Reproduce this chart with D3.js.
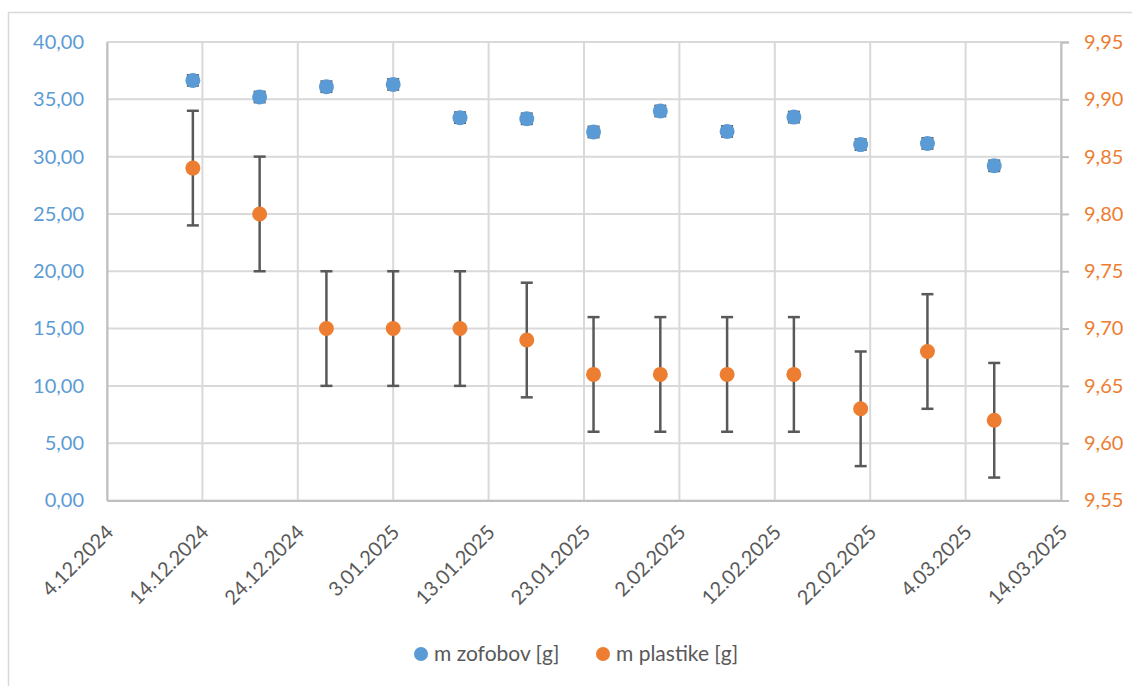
<!DOCTYPE html>
<html>
<head>
<meta charset="utf-8">
<script src="https://cdn.jsdelivr.net/npm/d3@7"></script>
<style>
  body { margin: 0; background: #fff; }
  svg { display: block; font-family: Lato, "Open Sans", sans-serif; }
</style>
</head>
<body>
<svg width="1132" height="686"></svg>
<script>
// measurement dates (weekly)
var dates = ["13.12.2024", "20.12.2024", "27.12.2024", "3.01.2025", "10.01.2025", "17.01.2025",
             "24.01.2025", "31.01.2025", "7.02.2025", "14.02.2025", "21.02.2025", "28.02.2025", "7.03.2025"];
// m zofobov [g] - left axis
var zofobov = [36.65, 35.2, 36.1, 36.3, 33.4, 33.3, 32.15, 33.98, 32.2, 33.45, 31.05, 31.15, 29.2];
var zofobovErr = [0.45, 0.45, 0.45, 0.45, 0.45, 0.45, 0.45, 0.45, 0.45, 0.45, 0.45, 0.45, 0.45];
// m plastike [g] - right axis
var plastika = [9.84, 9.80, 9.70, 9.70, 9.70, 9.69, 9.66, 9.66, 9.66, 9.66, 9.63, 9.68, 9.62];
var plastikaErr = [0.05, 0.05, 0.05, 0.05, 0.05, 0.05, 0.05, 0.05, 0.05, 0.05, 0.05, 0.05, 0.05];
// axis ticks
var xTicks = ["4.12.2024", "14.12.2024", "24.12.2024", "3.01.2025", "13.01.2025", "23.01.2025",
              "2.02.2025", "12.02.2025", "22.02.2025", "4.03.2025", "14.03.2025"];
var yLeftTicks = [0, 5, 10, 15, 20, 25, 30, 35, 40];
var yRightTicks = [9.55, 9.60, 9.65, 9.70, 9.75, 9.80, 9.85, 9.90, 9.95];
var seriesNames = ["m zofobov [g]", "m plastike [g]"];

var blue = "#5B9BD5", orange = "#ED7D31", grey = "#595959", grid = "#d9d9d9";

var svg = d3.select("svg");
var parse = d3.timeParse("%d.%m.%Y");
var fmt = d3.formatLocale({decimal: ",", thousands: ".", grouping: [3], currency: ["", ""]}).format(".2f");

var plotLeft = 107, plotRight = 1061, plotTop = 42, plotBottom = 500.5;

var x = d3.scaleTime()
    .domain([parse(xTicks[0]), parse(xTicks[xTicks.length - 1])])
    .range([plotLeft, plotRight]);
var yL = d3.scaleLinear().domain([0, 40]).range([plotBottom, plotTop]);
var yR = d3.scaleLinear().domain([9.55, 9.95]).range([plotBottom, plotTop]);

// chart border
svg.append("rect")
    .attr("x", 8.5).attr("y", 12.5)
    .attr("width", 1200).attr("height", 800)
    .attr("fill", "none").attr("stroke", grid).attr("stroke-width", 1.5);

// gridlines
svg.append("g").selectAll("line")
    .data(yLeftTicks)
  .enter().append("line")
    .attr("x1", plotLeft).attr("x2", plotRight)
    .attr("y1", function(d) { return yL(d); })
    .attr("y2", function(d) { return yL(d); })
    .attr("stroke", grid).attr("stroke-width", 2);

svg.append("g").selectAll("line")
    .data(xTicks)
  .enter().append("line")
    .attr("x1", function(d) { return x(parse(d)); })
    .attr("x2", function(d) { return x(parse(d)); })
    .attr("y1", plotTop).attr("y2", plotBottom)
    .attr("stroke", grid).attr("stroke-width", 2);

// left axis
var gL = svg.append("g")
    .attr("transform", "translate(" + plotLeft + ",0)")
    .call(d3.axisLeft(yL).tickValues(yLeftTicks).tickSize(0).tickPadding(23).tickFormat(fmt));
gL.select(".domain").attr("stroke", "#bfbfbf").attr("stroke-width", 2);
gL.selectAll("text").attr("fill", blue).style("font-size", "20px").style("font-family", "Lato");

// right axis
var gR = svg.append("g")
    .attr("transform", "translate(" + plotRight + ",0)")
    .call(d3.axisRight(yR).tickValues(yRightTicks).tickSizeOuter(0).tickSize(8).tickPadding(15).tickFormat(fmt));
gR.select(".domain").attr("stroke", "#bfbfbf").attr("stroke-width", 2);
gR.selectAll("line").attr("stroke", "#bfbfbf").attr("stroke-width", 2);
gR.selectAll("text").attr("fill", orange).style("font-size", "20px").style("font-family", "Lato");

// bottom axis
var gB = svg.append("g")
    .attr("transform", "translate(0," + plotBottom + ")")
    .call(d3.axisBottom(x).tickValues(xTicks.map(parse)).tickSize(0).tickFormat(d3.timeFormat("%-d.%m.%Y")));
gB.select(".domain").attr("stroke", "#bfbfbf").attr("stroke-width", 2);
gB.selectAll("text")
    .attr("fill", grey)
    .style("font-size", "20px").style("font-family", "Lato")
    .attr("text-anchor", "end")
    .attr("dy", "0")
    .attr("transform", "translate(5,31) rotate(-45)");

// error bars
function errorBars(vals, errs, y, cap) {
  var g = svg.append("g").attr("stroke", grey).attr("stroke-width", 2.5).attr("fill", "none");
  var items = g.selectAll("g").data(vals).enter().append("g");
  items.append("line")
      .attr("x1", function(d, i) { return x(parse(dates[i])); })
      .attr("x2", function(d, i) { return x(parse(dates[i])); })
      .attr("y1", function(d, i) { return y(d + errs[i]); })
      .attr("y2", function(d, i) { return y(d - errs[i]); });
  [1, -1].forEach(function(s) {
    items.append("line")
        .attr("x1", function(d, i) { return x(parse(dates[i])) - cap; })
        .attr("x2", function(d, i) { return x(parse(dates[i])) + cap; })
        .attr("y1", function(d, i) { return y(d + s * errs[i]); })
        .attr("y2", function(d, i) { return y(d + s * errs[i]); });
  });
}
errorBars(zofobov, zofobovErr, yL, 6);
errorBars(plastika, plastikaErr, yR, 6);

// points
svg.append("g").selectAll("circle")
    .data(zofobov)
  .enter().append("circle")
    .attr("cx", function(d, i) { return x(parse(dates[i])); })
    .attr("cy", function(d) { return yL(d); })
    .attr("r", 7.5)
    .attr("fill", blue);

svg.append("g").selectAll("circle")
    .data(plastika)
  .enter().append("circle")
    .attr("cx", function(d, i) { return x(parse(dates[i])); })
    .attr("cy", function(d) { return yR(d); })
    .attr("r", 7.5)
    .attr("fill", orange);

// legend
var legend = svg.append("g").selectAll("g")
    .data(seriesNames)
  .enter().append("g")
    .attr("transform", function(d, i) { return "translate(" + (421 + i * 182) + ",654)"; });
legend.append("circle").attr("r", 7).attr("fill", function(d, i) { return i ? orange : blue; });
legend.append("text")
    .attr("x", 13).attr("dy", "0.35em")
    .attr("fill", grey)
    .style("font-size", "21px").style("font-family", "Lato")
    .text(function(d) { return d; });
</script>
</body>
</html>
